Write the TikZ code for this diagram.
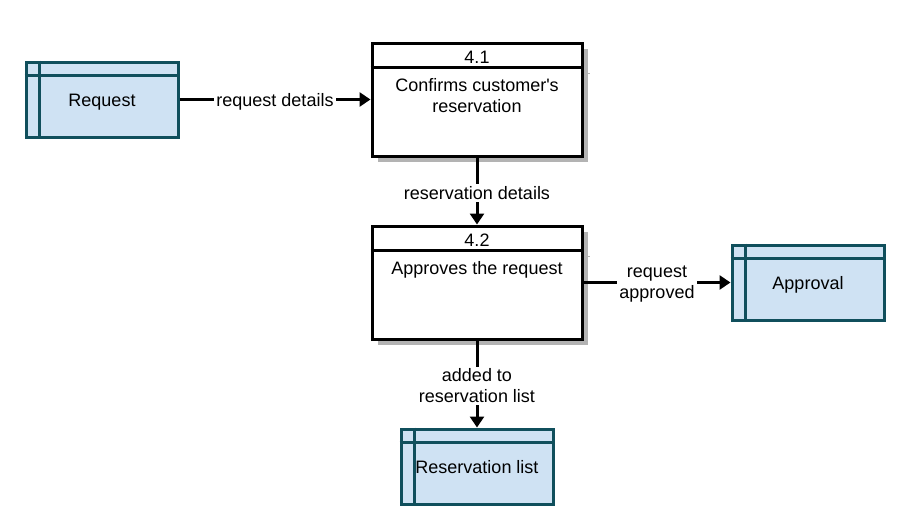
\documentclass[tikz,border=0pt]{standalone}
\usepackage{fontspec}
\setmainfont{Liberation Sans}
\usetikzlibrary{arrows.meta,positioning,shadows}

\definecolor{storefill}{HTML}{CFE2F3}
\definecolor{storeline}{HTML}{104F5C}
\definecolor{shadowgray}{HTML}{B3B3B3}

\begin{document}
\begin{tikzpicture}[x=1pt,y=-1pt,>={Triangle[length=11pt,width=14pt]},line width=3pt,
	font=\fontsize{18}{21}\selectfont,
	store/.style={draw=storeline,fill=storefill,minimum width=152pt,minimum height=75pt,inner sep=0pt,text height=15pt,text depth=2pt},
	process/.style={draw=black,fill=white,minimum width=210pt,minimum height=113pt,inner sep=0pt,
		drop shadow={shadow xshift=6pt,shadow yshift=-6pt,fill=shadowgray,opacity=1}},
	flow/.style={fill=white,inner sep=2pt,align=center,yshift=-2pt}]
\useasboundingbox (0,0) rectangle (906,522);

\node[process]   (p41)   at (477,99.5)        		{};
\node[process]   (p42) [below=67pt of p41]     		{};
	\node[store]   (request) [left=191pt of p41]      	{Request};
	\node[store]   (approval) [right=147pt of p42]     	{Approval};
	\node[store]   (reslist) [below=87pt of p42]      	{Reservation list};

% process headers
\node[anchor=north,minimum height=26pt,inner sep=0pt]   (p41num) at ([yshift=-1pt]p41.north)   {4.1};
\node[anchor=north,minimum height=26pt,inner sep=0pt]   (p42num) at ([yshift=-1pt]p42.north)   {4.2};
\node[anchor=north,align=center,inner sep=0pt]   (p41txt) at ([yshift=-5pt]p41num.south)   {Confirms customer\textquotesingle s\\reservation};
\node[anchor=north,align=center,inner sep=0pt]   (p42txt) at ([yshift=-5pt]p42num.south)   {Approves the request};
\foreach \p in {p41,p42} {
	\draw (\p.north west) ++(0,26) -- ++(210,0);
	\draw[shadowgray,line width=1.5pt] ([shift={(1.5,32)}]\p.north east) -- ++(4.5,0);
}

% store bars
\foreach \s in {request,approval,reslist}
	\draw[storeline] ([xshift=15pt]\s.north west) -- ([xshift=15pt]\s.south west)
		([yshift=-15pt]\s.north west) -- ([yshift=-15pt]\s.north east);

\path[->] (request)  edge	node[flow]{request details} 	(p41)
		(p41)  edge	node[flow]{reservation details} 	(p42)
		(p42)  edge	node[flow]{request\\approved} 	(approval)
			edge	node[flow]{added to\\reservation list} 	(reslist);

\end{tikzpicture}
\end{document}
